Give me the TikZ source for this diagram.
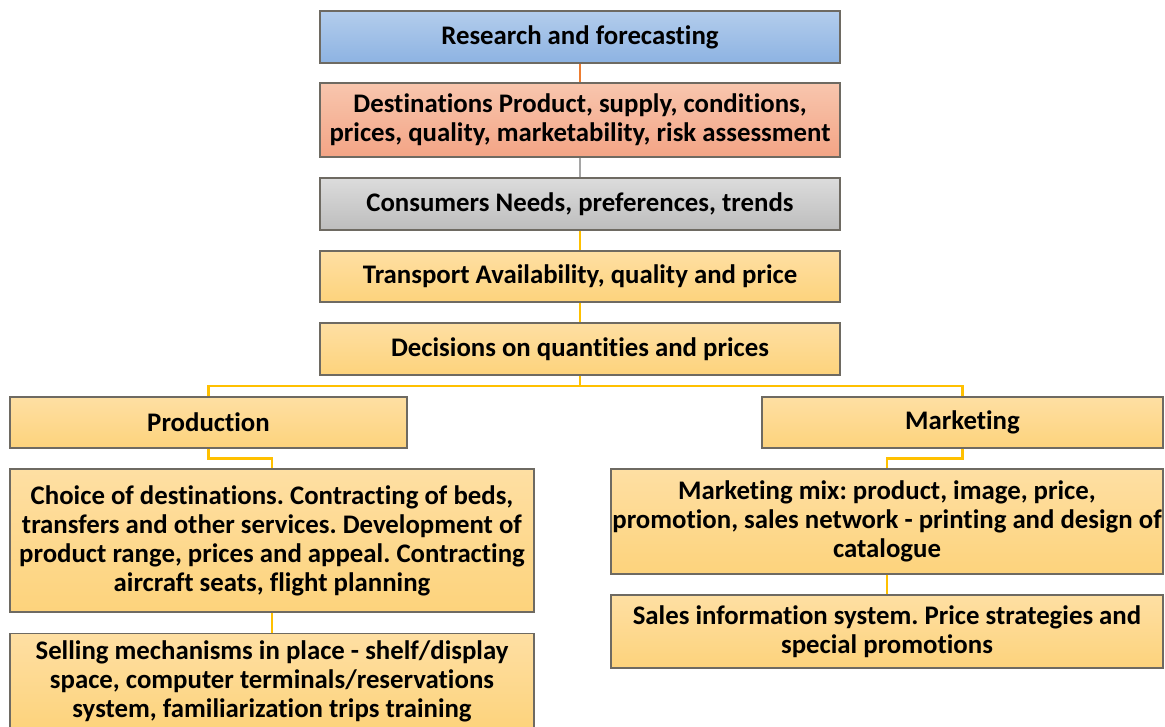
\documentclass[tikz,border=0pt]{standalone}
\usepackage{fontspec}
\setmainfont[Ligatures={NoCommon,NoContextual}]{Carlito}
\frenchspacing
\definecolor{bluetop}{HTML}{B3CDEC}
\definecolor{bluebot}{HTML}{8DB3E2}
\definecolor{orgtop}{HTML}{F8C6AE}
\definecolor{orgbot}{HTML}{F3A485}
\definecolor{graytop}{HTML}{DCDCDC}
\definecolor{graybot}{HTML}{BDBDBD}
\definecolor{yeltop}{HTML}{FEDFA3}
\definecolor{yelbot}{HTML}{FDD37C}
\definecolor{bordc}{HTML}{6E6A62}
\definecolor{lnorange}{HTML}{ED7D31}
\definecolor{lngray}{HTML}{A5A5A5}
\definecolor{lngold}{HTML}{FFC000}
\tikzset{
  box/.style={draw=bordc, line width=1.4pt, rectangle, align=center, inner sep=1pt,
    font=\fontsize{26.8}{29}\selectfont\bfseries\frenchspacing, text=black},
  bluebox/.style={box, top color=bluetop, bottom color=bluebot},
  orgbox/.style={box, top color=orgtop, bottom color=orgbot},
  graybox/.style={box, top color=graytop, bottom color=graybot},
  yelbox/.style={box, top color=yeltop, bottom color=yelbot},
  conn/.style={line width=2.6pt, draw=lngold},
}
\begin{document}
\begin{tikzpicture}[x=1pt,y=-1pt]
\useasboundingbox (0,0) rectangle (1165,727);
\clip (0,0) rectangle (1165,727);
\fill[white] (0,0) rectangle (1165,727);
\node[bluebox, minimum width=520pt, minimum height=52pt] (res) at (580,37) {Research and forecasting};
\node[orgbox, minimum width=520pt, minimum height=74pt] (dest) at (580,120) {Destinations Product, supply, conditions,\\prices, quality, marketability, risk assessment};
\node[graybox, minimum width=520pt, minimum height=52pt] (cons) at (580,204) {Consumers Needs, preferences, trends};
\node[yelbox, minimum width=520pt, minimum height=51pt] (trans) at (580,276.5) {Transport Availability, quality and price};
\node[yelbox, minimum width=520pt, minimum height=52pt] (dec) at (580,349) {Decisions on quantities and prices};
\node[yelbox, minimum width=397pt, minimum height=51pt] (prod) at (208.5,422.5) {Production};
\node[yelbox, minimum width=401pt, minimum height=51pt] (mkt) at (962.5,422.5) {Marketing};
\node[yelbox, minimum width=524pt, minimum height=143pt] (choice) at (272,540.5) {Choice of destinations. Contracting of beds,\\transfers and other services. Development of\\product range, prices and appeal. Contracting\\aircraft seats, flight planning};
\node[yelbox, minimum width=524pt, minimum height=96pt, anchor=north] (sell) at (272,633) {Selling mechanisms in place - shelf/display\\space, computer terminals/reservations\\system, familiarization trips training};
\node[yelbox, minimum width=552pt, minimum height=105pt] (mix) at (887,521.5) {Marketing mix: product, image, price,\\promotion, sales network - printing and design of\\catalogue};
\node[yelbox, minimum width=552pt, minimum height=73pt] (sales) at (887,631.5) {Sales information system. Price strategies and\\special promotions};
\draw[line width=2.6pt, draw=lnorange] (res.south) -- (dest.north);
\draw[line width=2.6pt, draw=lngray] (dest.south) -- (cons.north);
\draw[conn] (cons.south) -- (trans.north);
\draw[conn] (trans.south) -- (dec.north);
\coordinate (j1) at (580,386);
\draw[conn] (dec.south) -- (j1);
\draw[conn] (j1) -| (prod.north);
\draw[conn] (j1) -| (mkt.north);
\draw[conn] (prod.south) -- ++(0,10) -| (choice.north);
\draw[conn] (choice.south) -- (sell.north);
\draw[conn] (mkt.south) -- ++(0,10) -| (mix.north);
\draw[conn] (mix.south) -- (sales.north);
\end{tikzpicture}
\end{document}
